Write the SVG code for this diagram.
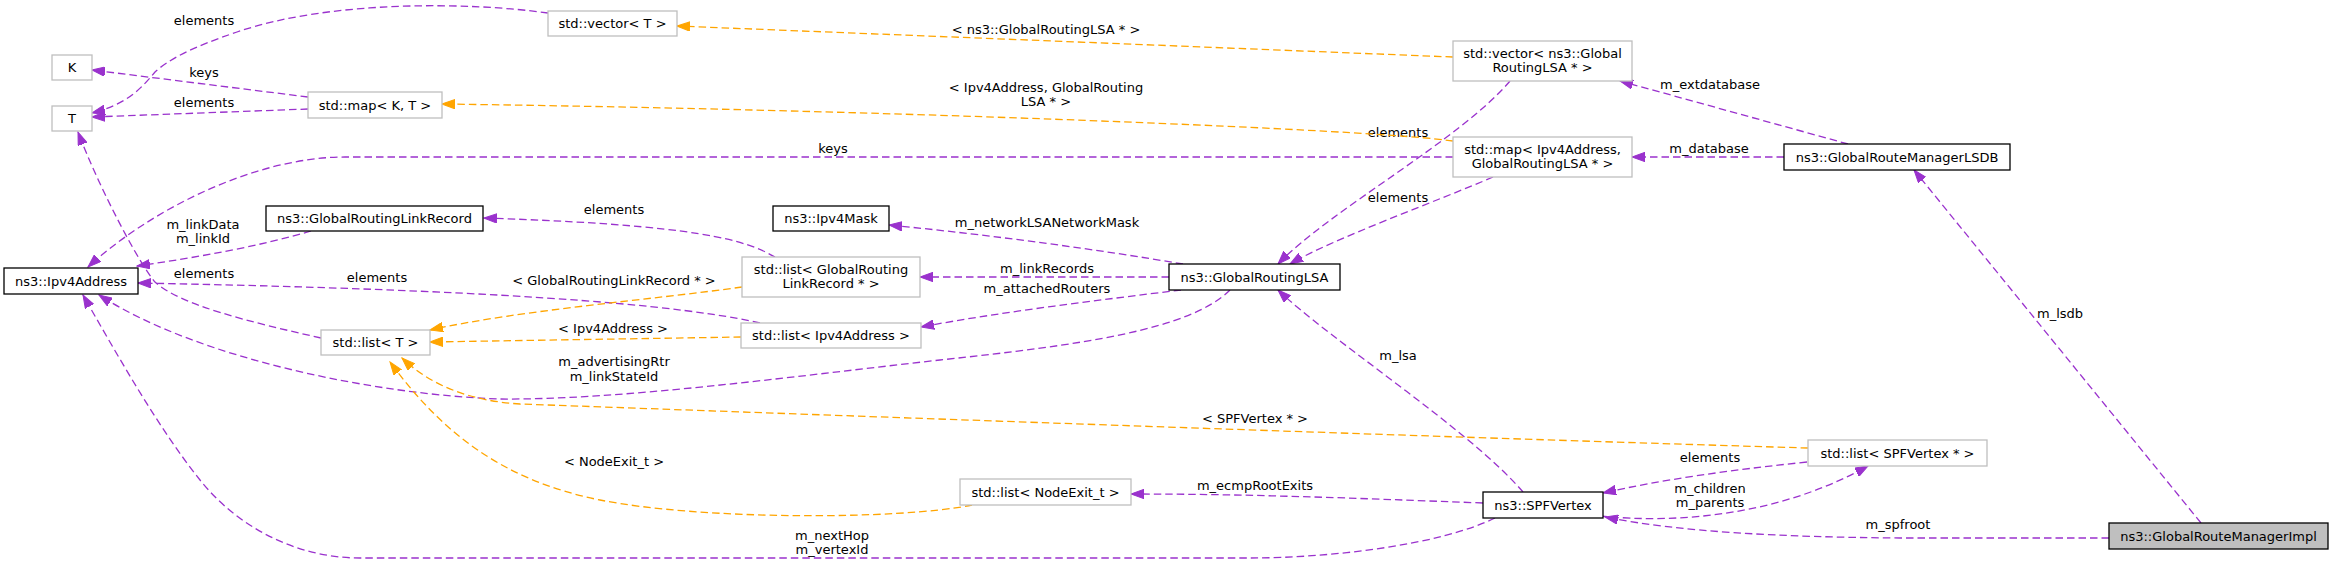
<svg xmlns="http://www.w3.org/2000/svg" width="2333" height="564" viewBox="0 0 2333 564">
<style>
text{font-family:"DejaVu Sans","Liberation Sans",sans-serif;font-size:13px;fill:#000;text-anchor:middle}
.g{fill:#fff;stroke:#bfbfbf;stroke-width:1.3}
.b{fill:#fff;stroke:#000;stroke-width:1.3}
.h{fill:#bfbfbf;stroke:#000;stroke-width:1.3}
.p{fill:none;stroke:#9a32cd;stroke-width:1.3;stroke-dasharray:7.5,4;marker-end:url(#ap)}
.o{fill:none;stroke:#ffa500;stroke-width:1.3;stroke-dasharray:7.5,4;marker-end:url(#ao)}
</style>
<defs>
<marker id="ap" markerUnits="userSpaceOnUse" markerWidth="14" markerHeight="10" refX="13" refY="5" orient="auto" viewBox="0 0 14 10"><path d="M0,0.3 L13,5 L0,9.7 z" fill="#9a32cd" stroke="#9a32cd" stroke-width="1"/></marker>
<marker id="ao" markerUnits="userSpaceOnUse" markerWidth="14" markerHeight="10" refX="13" refY="5" orient="auto" viewBox="0 0 14 10"><path d="M0,0.3 L13,5 L0,9.7 z" fill="#ffa500" stroke="#ffa500" stroke-width="1"/></marker>
</defs>
<rect width="2333" height="564" fill="#fff"/>
<g id="connectors">
<path class="p" d="M548,13 C470,2 330,0 237,32 C190,48 168,60 155,72 C140,90 125,105 92,113"/>
<text x="204" y="25">elements</text>
<path class="p" d="M308,97 L92,70"/>
<text x="204" y="77">keys</text>
<path class="p" d="M308,109 L92,117"/>
<text x="204" y="107">elements</text>
<path class="p" d="M1453,157 L345,157 C255,157 150,210 88,267"/>
<text x="833" y="153">keys</text>
<path class="p" d="M311,231 C260,246 200,257 137,266"/>
<text x="203" y="229">m_linkData</text>
<text x="203" y="243">m_linkId</text>
<path class="p" d="M775,257 C745,240 700,225 484,218"/>
<text x="614" y="214">elements</text>
<path class="p" d="M760,323 C650,298 400,288 138,283"/>
<text x="377" y="282">elements</text>
<path class="p" d="M321,338 C250,322 180,305 155,282 C140,265 100,190 78,132"/>
<text x="204" y="278">elements</text>
<path class="p" d="M1230,290 C1190,330 1080,345 940,360 C780,378 620,400 500,399 C380,395 200,360 99,295"/>
<text x="614" y="366">m_advertisingRtr</text>
<text x="614" y="381">m_linkStateId</text>
<path class="p" d="M1495,518 C1440,545 1330,558 1250,558 L360,558 C300,558 240,530 200,480 C160,430 120,360 83,295"/>
<text x="832" y="540">m_nextHop</text>
<text x="832" y="554">m_vertexId</text>
<path class="p" d="M1169,277 L920,277"/>
<text x="1047" y="273">m_linkRecords</text>
<path class="p" d="M1181,290 C1100,300 1000,312 921,327"/>
<text x="1047" y="293">m_attachedRouters</text>
<path class="p" d="M1183,264 C1100,250 1000,236 889,225"/>
<text x="1047" y="227">m_networkLSANetworkMask</text>
<path class="p" d="M1510,81 C1460,140 1330,210 1278,264"/>
<text x="1398" y="137">elements</text>
<path class="p" d="M1493,177 C1440,200 1330,240 1290,264"/>
<text x="1398" y="202">elements</text>
<path class="p" d="M1848,144 L1620,81"/>
<text x="1710" y="89">m_extdatabase</text>
<path class="p" d="M1784,157 L1632,157"/>
<text x="1709" y="153">m_database</text>
<path class="p" d="M2201,523 L1914,170"/>
<text x="2060" y="318">m_lsdb</text>
<path class="p" d="M2109,538 L1900,538 C1780,537 1680,532 1605,517"/>
<text x="1898" y="529">m_spfroot</text>
<path class="p" d="M1600,516 C1680,524 1780,515 1868,466"/>
<text x="1710" y="493">m_children</text>
<text x="1710" y="507">m_parents</text>
<path class="p" d="M1807,462 C1730,470 1660,480 1603,493"/>
<text x="1710" y="462">elements</text>
<path class="p" d="M1523,492 C1470,430 1330,340 1278,290"/>
<text x="1398" y="360">m_lsa</text>
<path class="p" d="M1483,503 C1350,498 1250,494 1131,494"/>
<text x="1255" y="490">m_ecmpRootExits</text>
<path class="o" d="M1453,57 L677,26"/>
<text x="1046" y="34">&lt; ns3::GlobalRoutingLSA * &gt;</text>
<path class="o" d="M1453,141 C1380,130 900,110 442,104"/>
<text x="1046" y="92">&lt; Ipv4Address, GlobalRouting</text>
<text x="1046" y="106">LSA * &gt;</text>
<path class="o" d="M742,287 C650,300 520,310 430,330"/>
<text x="614" y="285">&lt; GlobalRoutingLinkRecord * &gt;</text>
<path class="o" d="M741,337 L430,342"/>
<text x="613" y="333">&lt; Ipv4Address &gt;</text>
<path class="o" d="M1808,448 C1400,436 800,414 520,404 C470,401 430,385 402,358"/>
<text x="1255" y="423">&lt; SPFVertex * &gt;</text>
<path class="o" d="M972,505 C900,520 700,520 600,500 C500,480 440,430 390,362"/>
<text x="614" y="466">&lt; NodeExit_t &gt;</text>
</g>
<g id="vecT"><rect class="g" x="548" y="11" width="129" height="25"/><text x="612.5" y="28">std::vector&lt; T &gt;</text></g>
<g id="K"><rect class="g" x="52" y="55" width="40" height="25"/><text x="72" y="72">K</text></g>
<g id="T"><rect class="g" x="52" y="106" width="40" height="25"/><text x="72" y="123">T</text></g>
<g id="mapKT"><rect class="g" x="308" y="92" width="134" height="26"/><text x="375" y="109.5">std::map&lt; K, T &gt;</text></g>
<g id="GRLinkRecord"><rect class="b" x="266" y="206" width="217" height="25"/><text x="374.5" y="223">ns3::GlobalRoutingLinkRecord</text></g>
<g id="Ipv4Address"><rect class="b" x="4" y="268" width="134" height="26"/><text x="71" y="285.5">ns3::Ipv4Address</text></g>
<g id="Ipv4Mask"><rect class="b" x="773" y="206" width="116" height="25"/><text x="831" y="223">ns3::Ipv4Mask</text></g>
<g id="listGRLR"><rect class="g" x="742" y="257" width="178" height="40"/><text x="831" y="273.5">std::list&lt; GlobalRouting</text><text x="831" y="287.5">LinkRecord * &gt;</text></g>
<g id="listIpv4"><rect class="g" x="741" y="323" width="180" height="25"/><text x="831" y="340">std::list&lt; Ipv4Address &gt;</text></g>
<g id="listT"><rect class="g" x="321" y="330" width="109" height="25"/><text x="375.5" y="347">std::list&lt; T &gt;</text></g>
<g id="GRLSA"><rect class="b" x="1169" y="264" width="171" height="26"/><text x="1254.5" y="281.5">ns3::GlobalRoutingLSA</text></g>
<g id="vecLSA"><rect class="g" x="1453" y="41" width="179" height="40"/><text x="1542.5" y="57.5">std::vector&lt; ns3::Global</text><text x="1542.5" y="71.5">RoutingLSA * &gt;</text></g>
<g id="mapLSA"><rect class="g" x="1453" y="137" width="179" height="40"/><text x="1542.5" y="153.5">std::map&lt; Ipv4Address,</text><text x="1542.5" y="167.5">GlobalRoutingLSA * &gt;</text></g>
<g id="LSDB"><rect class="b" x="1784" y="144" width="226" height="26"/><text x="1897" y="161.5">ns3::GlobalRouteManagerLSDB</text></g>
<g id="listNodeExit"><rect class="g" x="960" y="479" width="171" height="26"/><text x="1045.5" y="496.5">std::list&lt; NodeExit_t &gt;</text></g>
<g id="SPFVertex"><rect class="b" x="1483" y="492" width="120" height="26"/><text x="1543" y="509.5">ns3::SPFVertex</text></g>
<g id="listSPF"><rect class="g" x="1808" y="440" width="179" height="26"/><text x="1897.5" y="457.5">std::list&lt; SPFVertex * &gt;</text></g>
<g id="GRMImpl"><rect class="h" x="2109" y="523" width="219" height="26"/><text x="2218.5" y="540.5">ns3::GlobalRouteManagerImpl</text></g>
</svg>
